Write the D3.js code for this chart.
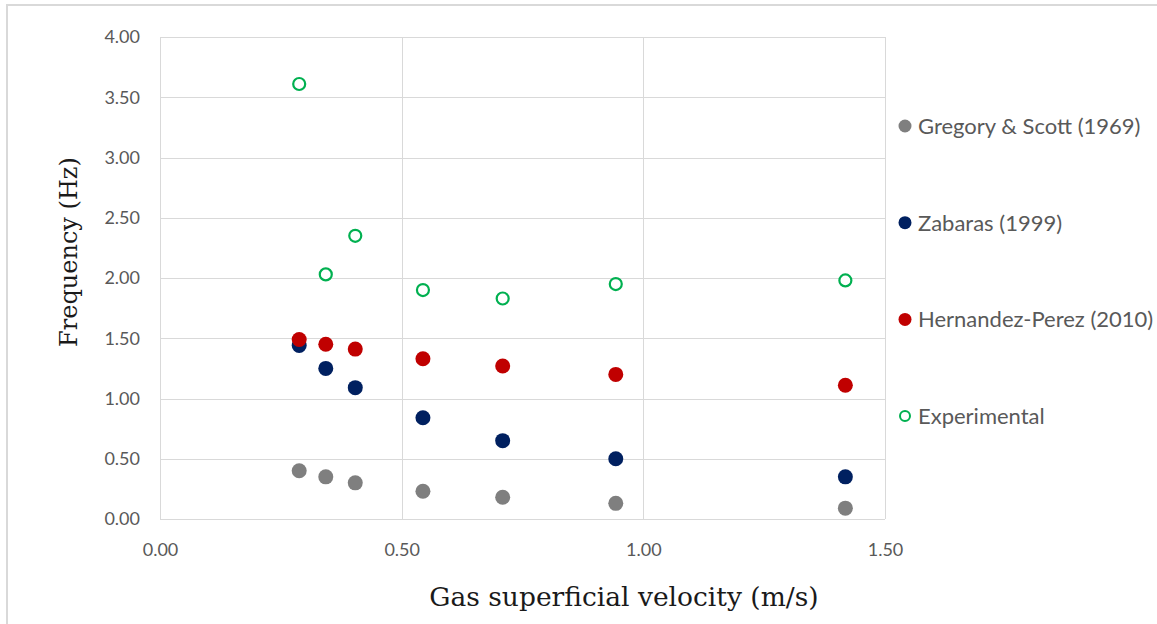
<!DOCTYPE html>
<html>
<head>
<meta charset="utf-8">
<script src="https://cdn.jsdelivr.net/npm/d3@7"></script>
<style>
  body { margin: 0; background: #fff; }
  svg { display: block; }
</style>
</head>
<body>
<div id="chart"></div>
<script>
// Data
const velocity = [0.288, 0.343, 0.404, 0.544, 0.709, 0.943, 1.418];
const gregoryScott = [0.40, 0.35, 0.30, 0.23, 0.18, 0.13, 0.09];
const zabaras = [1.44, 1.25, 1.09, 0.84, 0.65, 0.50, 0.35];
const hernandezPerez = [1.49, 1.45, 1.41, 1.33, 1.27, 1.20, 1.11];
const experimental = [3.61, 2.03, 2.35, 1.90, 1.83, 1.95, 1.98];

const xTicks = [0, 0.5, 1.0, 1.5];
const yTicks = [0, 0.5, 1.0, 1.5, 2.0, 2.5, 3.0, 3.5, 4.0];

const series = [
  { name: "Gregory & Scott (1969)", values: gregoryScott, color: "#7f7f7f", hollow: false },
  { name: "Zabaras (1999)", values: zabaras, color: "#002060", hollow: false },
  { name: "Hernandez-Perez (2010)", values: hernandezPerez, color: "#c00000", hollow: false },
  { name: "Experimental", values: experimental, color: "#00b050", hollow: true }
];

const width = 1157;
const height = 624;
const margin = { top: 37, right: 272, bottom: 105, left: 160 };
const plotW = width - margin.left - margin.right;
const plotH = height - margin.top - margin.bottom;

const svg = d3.select("#chart").append("svg")
    .attr("width", width)
    .attr("height", height);

// outer chart frame (only top and left edges show in the picture)
svg.append("rect")
    .attr("x", 7)
    .attr("y", 5)
    .attr("width", width + 20)
    .attr("height", height + 20)
    .attr("fill", "none")
    .attr("stroke", "#d9d9d9")
    .attr("stroke-width", 2);

const g = svg.append("g")
    .attr("transform", `translate(${margin.left},${margin.top})`);

const x = d3.scaleLinear().domain([0, 1.5]).range([0, plotW]);
const y = d3.scaleLinear().domain([0, 4]).range([plotH, 0]);

// gridlines
g.append("g")
    .selectAll("line")
    .data(yTicks)
    .enter()
    .append("line")
    .attr("x1", 0)
    .attr("x2", plotW)
    .attr("y1", d => Math.round(y(d)) + 0.5)
    .attr("y2", d => Math.round(y(d)) + 0.5)
    .attr("stroke", "#d9d9d9");

g.append("g")
    .selectAll("line")
    .data(xTicks)
    .enter()
    .append("line")
    .attr("x1", d => Math.round(x(d)) + 0.5)
    .attr("x2", d => Math.round(x(d)) + 0.5)
    .attr("y1", 0)
    .attr("y2", plotH)
    .attr("stroke", "#d9d9d9");

// axes with tick labels only
const xAxis = g.append("g")
    .attr("transform", `translate(0,${plotH})`)
    .call(d3.axisBottom(x).tickValues(xTicks).tickFormat(d3.format(".2f")).tickSize(0).tickPadding(24));

const yAxis = g.append("g")
    .call(d3.axisLeft(y).tickValues(yTicks).tickFormat(d3.format(".2f")).tickSize(0).tickPadding(20));

[xAxis, yAxis].forEach(a => {
  a.select(".domain").remove();
  a.selectAll("text")
      .attr("fill", "#595959")
      .style("font-family", "Lato, 'Open Sans', sans-serif")
      .style("font-size", "18px");
});

// points
series.forEach(s => {
  g.append("g")
      .selectAll("circle")
      .data(s.values)
      .enter()
      .append("circle")
      .attr("cx", (d, i) => x(velocity[i]))
      .attr("cy", d => y(d))
      .attr("r", s.hollow ? 6 : 7.5)
      .attr("fill", s.hollow ? "#fff" : s.color)
      .attr("stroke", s.hollow ? s.color : "none")
      .attr("stroke-width", s.hollow ? 2.2 : 0);
});

// axis titles
svg.append("text")
    .attr("x", 624)
    .attr("y", 606)
    .attr("text-anchor", "middle")
    .attr("fill", "#1a1a1a")
    .style("font-family", "'DejaVu Serif', serif")
    .style("font-size", "26.5px")
    .text("Gas superficial velocity (m/s)");

svg.append("text")
    .attr("transform", "translate(77,252) rotate(-90)")
    .attr("text-anchor", "middle")
    .attr("fill", "#1a1a1a")
    .style("font-family", "'DejaVu Serif', serif")
    .style("font-size", "24px")
    .text("Frequency (Hz)");

// legend
const legend = svg.append("g")
    .attr("transform", "translate(905,126)");

series.forEach((s, i) => {
  legend.append("circle")
      .attr("cx", 0)
      .attr("cy", i * 96.7)
      .attr("r", s.hollow ? 5 : 6.5)
      .attr("fill", s.hollow ? "#fff" : s.color)
      .attr("stroke", s.hollow ? s.color : "none")
      .attr("stroke-width", s.hollow ? 2 : 0);

  legend.append("text")
      .attr("x", 13)
      .attr("y", i * 96.7)
      .attr("dy", "0.36em")
      .attr("fill", "#595959")
      .style("font-family", "Lato, 'Open Sans', sans-serif")
      .style("font-size", "22px")
      .text(s.name);
});
</script>
</body>
</html>
